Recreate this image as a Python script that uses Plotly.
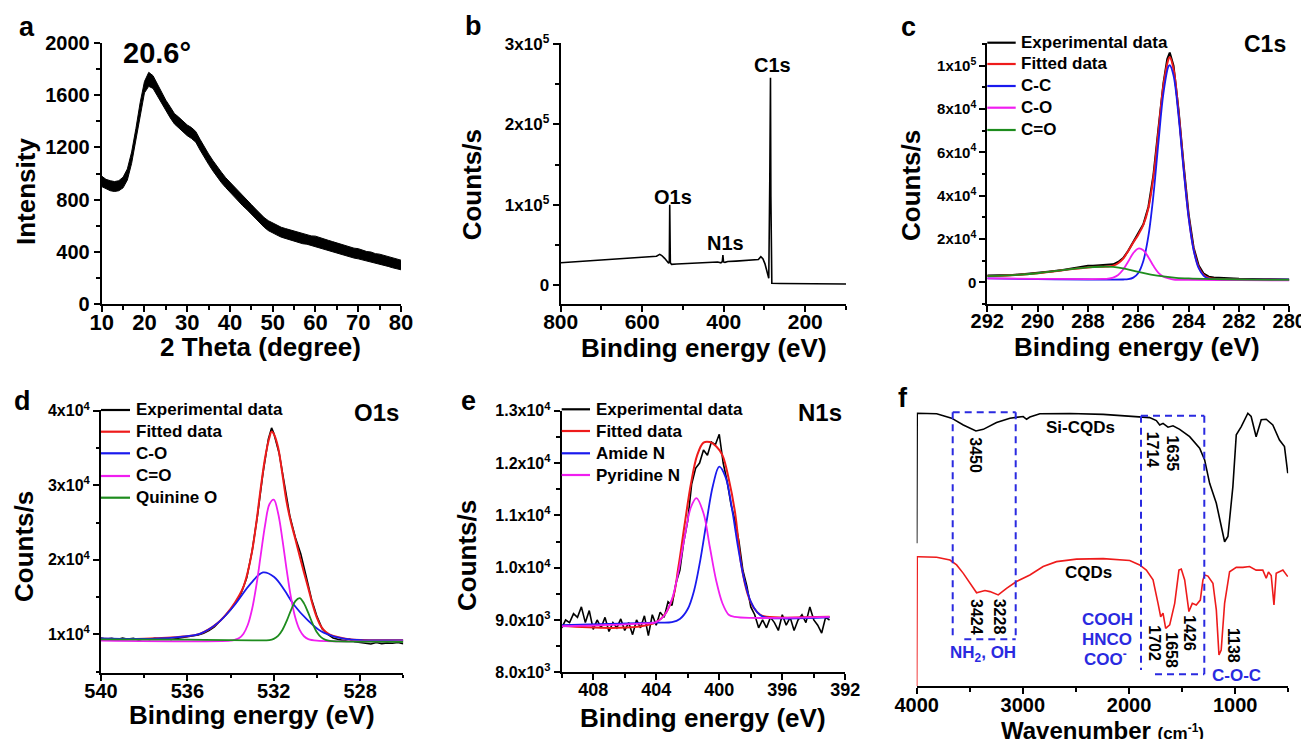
import plotly.graph_objects as go

W, H = 1309, 739
OFF = 8  # default page margin of the html body
FONT = "Liberation Sans, Arial, Helvetica, sans-serif"
BLACK, RED, BLUE, MAG, GREEN = "#000000", "#ee1b1b", "#1a1aee", "#f01ef0", "#1e8c1e"
DBLUE = "#2a2ae0"


def px(x):
    return (x - OFF) / W


def py(y):
    return 1 - (y - OFF) / H


# ---------------- data: (a) XRD (upper / lower edge of the noisy trace) ----------------
xrd_2theta = list(range(10, 81))
xrd_upper = [980, 955, 945, 938, 945, 972, 1035, 1165, 1345, 1545,
             1705, 1775, 1750, 1685, 1625, 1562, 1512, 1460, 1432, 1400,
             1372, 1352, 1322, 1262, 1200, 1150, 1100, 1050, 1010, 968,
             935, 898, 865, 828, 798, 762, 728, 692, 662, 638,
             620, 602, 588, 578, 568, 558, 548, 540, 532, 522,
             520, 508, 498, 488, 478, 468, 458, 448, 438, 428,
             424, 412, 402, 398, 386, 382, 372, 362, 352, 342, 336]
xrd_lower = [900, 885, 868, 862, 868, 890, 950, 1078, 1258, 1458,
             1618, 1668, 1652, 1596, 1538, 1478, 1428, 1380, 1348, 1320,
             1290, 1268, 1240, 1180, 1120, 1070, 1020, 972, 930, 892,
             855, 822, 786, 752, 722, 688, 652, 618, 588, 562,
             542, 528, 512, 502, 492, 482, 472, 462, 458, 448,
             442, 432, 422, 412, 402, 392, 382, 372, 362, 352,
             346, 338, 328, 322, 314, 308, 298, 288, 278, 268, 262]

# ---------------- data: (b) XPS survey ----------------
survey_be = [800, 760, 720, 680, 640, 600, 580, 565, 557, 552,
             545, 538, 535, 533.5, 532.5, 531, 528, 515, 490, 460,
             430, 415, 407, 403.5, 402, 400.5, 397, 390, 370, 350,
             330, 315, 309, 304, 299, 295, 291, 289.5, 287, 285.3,
             284.3, 283.3, 282, 260, 230, 200, 170, 140, 110, 100]
survey_cps = [28000, 29500, 31000, 32500, 33800, 34800, 35500, 36200, 38500, 37000,
              33500, 28500, 27500, 30000, 100000, 28000, 26000, 26500, 27000, 27500,
              28500, 29000, 28000, 29500, 37500, 29000, 28500, 29500, 30000, 30800,
              31500, 32000, 35500, 33000, 27000, 19000, 10500, 8700, 130000, 258000,
              110000, 4000, 2500, 2200, 2100, 2000, 1900, 1800, 1700, 1700]

# ---------------- data: (c) C1s ----------------
c1s_exp_be = [292, 291.5, 291, 290.5, 290, 289.5, 289, 288.5, 288.2, 288,
              287.8, 287.5, 287.2, 287, 286.8, 286.6, 286.4, 286.2, 286.0, 285.8,
              285.6, 285.4, 285.2, 285.0, 284.85, 284.75, 284.6, 284.4, 284.2, 284.0,
              283.8, 283.6, 283.4, 283.2, 283.0, 282.5, 282, 281, 280]
c1s_exp = [3100, 3200, 3400, 3800, 4300, 5000, 5700, 6600, 7300, 7700,
           7600, 7800, 8000, 8300, 9400, 11200, 14600, 18500, 22300, 26800,
           34800, 49500, 71000, 92000, 103000, 106000, 100000, 79500, 54500, 31500,
           16000, 7800, 4000, 2600, 2200, 1800, 1600, 1400, 1300]
c1s_fit_be = [292, 291, 290, 289, 288, 287.5, 287.2, 287, 286.8, 286.6,
              286.4, 286.2, 286.0, 285.8, 285.6, 285.4, 285.2, 285.0, 284.8, 284.75,
              284.6, 284.4, 284.2, 284.0, 283.8, 283.6, 283.4, 283.2, 283, 282, 280]
c1s_fit = [2900, 3300, 4200, 5600, 6900, 7200, 7300, 7700, 8800, 10900,
           14500, 18400, 22000, 26500, 34200, 48500, 69600, 91000, 103000, 104000,
           98500, 78500, 53300, 30600, 15300, 7000, 3400, 2050, 1600, 1300, 1100]
c1s_cc_be = [292, 290, 288, 286.6, 286.4, 286.2, 286.0, 285.8, 285.6, 285.4,
             285.2, 285.0, 284.8, 284.75, 284.6, 284.4, 284.2, 284.0, 283.8, 283.6,
             283.4, 283.2, 283.0, 282, 280]
c1s_cc = [1800, 1500, 1300, 1300, 1450, 2160, 4350, 9880, 21300, 40100,
          64600, 87400, 99700, 100200, 95400, 76700, 52000, 29800, 14700, 6500,
          3000, 1700, 1300, 1200, 1200]
c1s_co_be = [292, 290, 288, 287.4, 287.2, 287.0, 286.8, 286.6, 286.4, 286.2,
             286.0, 285.8, 285.6, 285.4, 285.2, 285.0, 284.8, 284.6, 284.0, 282, 280]
c1s_co = [1800, 1600, 1500, 1550, 1700, 2200, 3400, 5900, 9600, 13500,
          15600, 14800, 11600, 7600, 4400, 2600, 1800, 1300, 1100, 1000, 900]
c1s_cdo_be = [292, 291, 290, 289.5, 289, 288.5, 288, 287.5, 287, 286.5,
              286, 285.5, 285, 284.5, 284, 283, 282, 280]
c1s_cdo = [2900, 3300, 4200, 4900, 5600, 6300, 6900, 7200, 7100, 6200,
           4800, 3600, 2700, 2100, 1800, 1500, 1300, 1100]

# ---------------- data: (d) O1s ----------------
o1s_exp_be = [540, 539.75, 539.5, 539.25, 539, 538.75, 538.5, 538.25, 538, 537.75,
              537.5, 537.25, 537, 536.75, 536.5, 536.25, 536, 535.75, 535.5, 535.25,
              535, 534.75, 534.5, 534.25, 534, 533.75, 533.5, 533.25, 533, 532.75,
              532.5, 532.25, 532.1, 532, 531.75, 531.5, 531.25, 531, 530.75, 530.5,
              530.25, 530, 529.75, 529.5, 529.25, 529, 528.75, 528.5, 528.25, 528,
              527.75, 527.5, 527.25, 527, 526.75, 526.5, 526.25, 526]
o1s_exp = [9500, 9350, 9450, 9300, 9500, 9350, 9450, 9250, 9400, 9300,
           9450, 9350, 9400, 9300, 9450, 9550, 9600, 9750, 9900, 10150,
           10500, 11000, 11700, 12500, 13300, 14300, 15600, 17600, 21200, 26000,
           31600, 36200, 37700, 37000, 34300, 30000, 25800, 23000, 20800, 17800,
           14700, 12400, 10700, 10000, 9500, 9300, 9150, 9350, 9000, 8900,
           8850, 8700, 8900, 8750, 8850, 8800, 8900, 8750]
o1s_fit_be = [540, 538, 536.2, 535.4, 534.6, 534.0, 533.6, 533.4, 533.2, 533.0,
              532.8, 532.6, 532.4, 532.2, 532.1, 532.0, 531.8, 531.6, 531.4, 531.2,
              531.0, 530.8, 530.6, 530.4, 530.2, 530.0, 529.8, 529.6, 529.4, 529.0,
              528.4, 526]
o1s_fit = [9400, 9400, 9700, 10100, 11500, 13400, 15200, 16400, 18400, 21200,
           25100, 29700, 33700, 36400, 37200, 36900, 35100, 31500, 27700, 25000,
           22800, 20500, 18300, 16200, 14000, 12200, 11000, 10350, 9960, 9600,
           9300, 9200]
o1s_co_be = [540, 537.7, 536.2, 535.4, 534.6, 533.85, 533.07, 532.5, 531.98, 531.5,
             531.05, 530.43, 529.81, 529.2, 528.4, 526]
o1s_co = [9450, 9400, 9700, 10100, 11500, 13800, 16800, 18300, 17700, 15900,
          13900, 11900, 10400, 9700, 9300, 9200]
o1s_cdo_be = [540, 534, 533.8, 533.6, 533.4, 533.2, 533.0, 532.8, 532.6, 532.4,
              532.2, 532.0, 531.8, 531.6, 531.4, 531.2, 531.0, 530.8, 530.6, 530.4,
              530.0, 526]
o1s_cdo = [9150, 9150, 9270, 9510, 10090, 11280, 13430, 16650, 20680, 24670,
           27450, 28070, 26280, 22750, 18600, 14910, 12220, 10590, 9740, 9360,
           9150, 9100]
o1s_q_be = [540, 536, 533, 532.2, 532.0, 531.8, 531.6, 531.4, 531.2, 531.0,
            530.8, 530.6, 530.4, 530.2, 530.0, 529.8, 529.6, 529.4, 529.0, 526]
o1s_q = [9330, 9280, 9200, 9230, 9390, 9790, 10580, 11800, 13250, 14450,
         14850, 14150, 12870, 11430, 10290, 9590, 9250, 9110, 9050, 9000]

# ---------------- data: (e) N1s ----------------
n1s_exp_be = [410, 409.75, 409.5, 409.25, 409, 408.75, 408.5, 408.25, 408, 407.75,
              407.5, 407.25, 407, 406.75, 406.5, 406.25, 406, 405.75, 405.5, 405.25,
              405, 404.75, 404.5, 404.25, 404, 403.75, 403.5, 403.25, 403, 402.75,
              402.5, 402.25, 402, 401.75, 401.5, 401.25, 401, 400.75, 400.5, 400.25,
              400, 399.75, 399.5, 399.25, 399, 398.75, 398.5, 398.25, 398, 397.75,
              397.5, 397.25, 397, 396.75, 396.5, 396.25, 396, 395.75, 395.5, 395.25,
              395, 394.75, 394.5, 394.25, 394, 393.75, 393.5, 393.25, 393]
n1s_exp = [8850, 9000, 8950, 9120, 9050, 9250, 8950, 9180, 8820, 9000,
           8850, 9050, 8780, 8950, 8850, 9020, 8800, 8950, 8720, 9000,
           8850, 9080, 8700, 9100, 8900, 9150, 9050, 9350, 9280, 9700,
           9950, 10500, 10900, 11600, 11900, 12000, 12250, 12150, 12400, 12350,
           12550, 12000, 11650, 11200, 10900, 10500, 9950, 9650, 9250, 9100,
           8850, 9000, 8850, 9050, 8950, 8800, 9100, 8900, 9050, 8800,
           9000, 9100, 8950, 9250, 9000, 8900, 8750, 9050, 9000]
n1s_fit_be = [410, 404, 403.0, 402.6, 402.2, 401.8, 401.4, 401.0, 400.6, 400.2,
              399.8, 399.4, 399.0, 398.6, 398.2, 397.8, 397.4, 397.0, 393]
n1s_fit = [8890, 8960, 9380, 10000, 10820, 11600, 12150, 12390, 12400, 12320,
           12150, 11700, 11060, 10050, 9500, 9230, 9100, 9060, 9060]
n1s_amide_be = [410, 404, 403, 402.5, 402.0, 401.6, 401.2, 400.8, 400.4, 400.0,
                399.6, 399.2, 398.8, 398.4, 398.0, 397.6, 397.2, 396, 393]
n1s_amide = [8900, 8950, 8960, 9020, 9210, 9560, 10150, 10890, 11570, 11930,
             11730, 11140, 10380, 9750, 9350, 9150, 9060, 9030, 9050]
n1s_pyr_be = [410, 405, 404, 403.5, 403.0, 402.6, 402.2, 401.8, 401.45, 401.0,
              400.6, 400.2, 399.8, 399.4, 399.0, 398, 393]
n1s_pyr = [8880, 8930, 8960, 9080, 9400, 9910, 10580, 11155, 11330, 11040,
           10400, 9760, 9320, 9100, 9060, 9040, 9060]

# ---------------- data: (f) FTIR ----------------
ftir_si_wn = [4000, 3995, 3812, 3671, 3561, 3442, 3373, 3248, 3122, 2997,
              2965, 2934, 2840, 2558, 2244, 1931, 1806, 1743, 1711, 1680,
              1633, 1586, 1523, 1429, 1335, 1288, 1241, 1178, 1132, 1100,
              1069, 1022, 990, 943, 881, 850, 803, 755, 708, 646,
              583, 536, 505]
ftir_si_t = [52.3, 100, 99.8, 98.2, 95.7, 93.5, 94.1, 96.6, 98.2, 98.8,
             97.8, 98.6, 99.8, 99.9, 99.6, 98.8, 98.4, 97.3, 95.7, 96.3,
             94.9, 95.4, 94.1, 91.4, 87.2, 82.9, 74.3, 67.0, 58.4, 52.9,
             54.8, 73.1, 92.1, 95.1, 100, 98.8, 91.4, 97.6, 97.8, 95.7,
             90.2, 87.8, 78.0]
ftir_cqd_wn = [4000, 3995, 3984, 3812, 3687, 3624, 3561, 3498, 3436, 3357,
               3310, 3232, 3154, 3060, 2934, 2809, 2683, 2495, 2244, 1994,
               1900, 1837, 1774, 1727, 1702, 1680, 1655, 1617, 1570, 1530,
               1508, 1476, 1436, 1404, 1367, 1329, 1304, 1288, 1257, 1210,
               1178, 1153, 1132, 1100, 1053, 990, 928, 865, 803, 740,
               708, 687, 661, 635, 614, 551, 505]
ftir_cqd_t = [0, 47.4, 47.4, 47.2, 46.2, 44.4, 41.3, 37.7, 34.2, 35.0,
              34.6, 33.4, 35.8, 38.3, 40.7, 43.8, 45.6, 46.5, 46.7, 46.0,
              44.4, 42.5, 38.9, 30.3, 25.4, 26.7, 21.1, 22.4, 30.3, 42.5,
              42.9, 38.9, 27.3, 30.3, 29.7, 31.5, 38.9, 40.7, 40.3, 37.7,
              27.9, 11.4, 13.2, 30.3, 41.9, 43.5, 43.5, 43.8, 42.5, 42.5,
              39.5, 41.8, 40.5, 29.7, 41.3, 42.5, 40.1]

# tick labels
b_tickvals = [0, 100000, 200000, 300000]
b_ticktext = ["0", "1x10<sup>5</sup>", "2x10<sup>5</sup>", "3x10<sup>5</sup>"]
c_tickvals = [0, 20000, 40000, 60000, 80000, 100000]
c_ticktext = ["0", "2x10<sup>4</sup>", "4x10<sup>4</sup>", "6x10<sup>4</sup>",
              "8x10<sup>4</sup>", "1x10<sup>5</sup>"]
d_tickvals = [10000, 20000, 30000, 40000]
d_ticktext = ["1x10<sup>4</sup>", "2x10<sup>4</sup>", "3x10<sup>4</sup>", "4x10<sup>4</sup>"]
e_tickvals = [8000, 9000, 10000, 11000, 12000, 13000]
e_ticktext = ["8.0x10<sup>3</sup>", "9.0x10<sup>3</sup>", "1.0x10<sup>4</sup>",
              "1.1x10<sup>4</sup>", "1.2x10<sup>4</sup>", "1.3x10<sup>4</sup>"]

# ---------------- figure ----------------
fig = go.Figure()


def add(x, y, color, width, xa, ya, shape="linear", **kw):
    fig.add_trace(go.Scatter(x=x, y=y, mode="lines", showlegend=False, hoverinfo="skip",
                             line=dict(color=color, width=width, shape=shape),
                             xaxis=xa, yaxis=ya, **kw))


# (a) noisy trace drawn as a filled band between its read lower and upper edges
add(xrd_2theta, xrd_lower, BLACK, 1, "x", "y")
add(xrd_2theta, xrd_upper, BLACK, 1, "x", "y", fill="tonexty", fillcolor=BLACK)

# (b)
add(survey_be, survey_cps, BLACK, 1.6, "x2", "y2")

# (c)
add(c1s_exp_be, c1s_exp, BLACK, 2, "x3", "y3")
add(c1s_fit_be, c1s_fit, RED, 2, "x3", "y3", "spline")
add(c1s_cc_be, c1s_cc, BLUE, 1.8, "x3", "y3", "spline")
add(c1s_co_be, c1s_co, MAG, 1.8, "x3", "y3", "spline")
add(c1s_cdo_be, c1s_cdo, GREEN, 1.8, "x3", "y3", "spline")

# (d)
add(o1s_exp_be, o1s_exp, BLACK, 1.6, "x4", "y4")
add(o1s_fit_be, o1s_fit, RED, 2, "x4", "y4", "spline")
add(o1s_co_be, o1s_co, BLUE, 1.8, "x4", "y4", "spline")
add(o1s_cdo_be, o1s_cdo, MAG, 1.8, "x4", "y4", "spline")
add(o1s_q_be, o1s_q, GREEN, 1.8, "x4", "y4", "spline")

# (e)
add(n1s_exp_be, n1s_exp, BLACK, 1.6, "x5", "y5")
add(n1s_fit_be, n1s_fit, RED, 2, "x5", "y5", "spline")
add(n1s_amide_be, n1s_amide, BLUE, 1.8, "x5", "y5", "spline")
add(n1s_pyr_be, n1s_pyr, MAG, 1.8, "x5", "y5", "spline")

# (f)
add(ftir_si_wn, ftir_si_t, BLACK, 1.6, "x6", "y6")
add(ftir_cqd_wn, ftir_cqd_t, RED, 1.6, "x6", "y6")


def axis(dom, rng, anchor, size, dtick=None, tick0=0, mdtick=None, tickvals=None,
         ticktext=None, visible=True, standoff=0):
    d = dict(domain=dom, range=rng, anchor=anchor, showline=True, linecolor="black",
             linewidth=2, ticks="outside", ticklen=6, tickwidth=2, tickcolor="black",
             showgrid=False, zeroline=False, mirror=False, automargin=False,
             fixedrange=True, visible=visible, ticklabelstandoff=standoff,
             tickfont=dict(family=FONT, size=size, color="black", weight="bold"))
    if tickvals is not None:
        d.update(tickmode="array", tickvals=tickvals, ticktext=ticktext)
    else:
        d.update(tickmode="linear", dtick=dtick, tick0=tick0)
    if mdtick:
        d["minor"] = dict(ticks="outside", ticklen=3.5, tickwidth=1.5, tickcolor="black",
                          dtick=mdtick, tick0=0, showgrid=False)
    return d


layout = dict(width=W, height=H, margin=dict(l=0, r=0, t=0, b=0), autosize=False,
              paper_bgcolor="white", plot_bgcolor="white", showlegend=False)

# (a)
layout["xaxis"] = axis([px(101.7), px(401)], [10, 80], "y", 22, dtick=10, mdtick=5, standoff=-8)
layout["yaxis"] = axis([py(304), py(43)], [0, 2000], "x", 20, dtick=400, mdtick=200)
# (b)
layout["xaxis2"] = axis([px(560.7), px(846)], [800, 100], "y2", 21, dtick=200, mdtick=100,
                        standoff=-8)
layout["yaxis2"] = axis([py(304), py(43)], [-23250, 301200], "x2", 17,
                        tickvals=b_tickvals, ticktext=b_ticktext, mdtick=50000)
# (c)
layout["xaxis3"] = axis([px(987.3), px(1289.3)], [292, 280], "y3", 20, dtick=2, mdtick=1,
                        standoff=-8)
layout["yaxis3"] = axis([py(304), py(43.3)], [-10000, 110300], "x3", 15,
                        tickvals=c_tickvals, ticktext=c_ticktext, mdtick=10000)
# (d)
layout["xaxis4"] = axis([px(101), px(403.3)], [540, 526], "y4", 20, dtick=4, mdtick=2,
                        standoff=-7)
layout["yaxis4"] = axis([py(672.7), py(410)], [4850, 40100], "x4", 16,
                        tickvals=d_tickvals, ticktext=d_ticktext, mdtick=5000)
# (e)
layout["xaxis5"] = axis([px(561.7), px(845.3)], [410, 392], "y5", 18, dtick=4, mdtick=2,
                        standoff=-6)
layout["yaxis5"] = axis([py(672.3), py(410.7)], [8000, 13000], "x5", 16,
                        tickvals=e_tickvals, ticktext=e_ticktext, mdtick=500)
# (f)
layout["xaxis6"] = axis([px(916.7), px(1288.3)], [4000, 500], "y6", 20, dtick=1000,
                        mdtick=500, standoff=-6)
layout["yaxis6"] = axis([py(686), py(407.8)], [0, 102], "x6", 12, dtick=20, visible=False)

fig.update_layout(**layout)

anns = []


def ann(text, x, y, size, color="black", angle=0, xanchor="center"):
    anns.append(dict(text=text, x=px(x), y=py(y), xref="paper", yref="paper",
                     showarrow=False, textangle=angle, xanchor=xanchor, yanchor="middle",
                     font=dict(family=FONT, size=size, color=color, weight="bold")))


# panel letters
for letter, x, y in [("a", 26.7, 27), ("b", 473.3, 26), ("c", 908.3, 27),
                     ("d", 22.7, 401), ("e", 468.3, 401), ("f", 903.3, 398)]:
    ann(letter, x, y, 27)

# axis titles
ann("Intensity", 25.3, 191.7, 26, angle=-90)
ann("2 Theta (degree)", 260, 346.7, 26)
ann("Counts/s", 472.3, 185, 26, angle=-90)
ann("Binding energy (eV)", 704, 348.3, 26)
ann("Counts/s", 910.3, 185.7, 26, angle=-90)
ann("Binding energy (eV)", 1137.3, 346.7, 26)
ann("Counts/s", 23.3, 546.7, 26, angle=-90)
ann("Binding energy (eV)", 251.7, 715, 26)
ann("Counts/s", 466.3, 555.7, 26, angle=-90)
ann("Binding energy (eV)", 703.3, 718.3, 26)
ann("Wavenumber <span style='font-size:17px'>(cm<sup>-1</sup>)</span>", 1102.3, 730.5, 24)

# in-panel labels
ann("20.6°", 156.7, 53.3, 29)
ann("O1s", 673, 197, 20)
ann("N1s", 725.7, 243, 20)
ann("C1s", 772.7, 65, 20)
ann("C1s", 1265, 44, 23)
ann("O1s", 376.7, 412.7, 24)
ann("N1s", 820, 412.7, 24)

shapes = []


def legend(x0, x1, xt, rows):
    for (label, color), y in rows:
        shapes.append(dict(type="line", xref="paper", yref="paper", x0=px(x0), x1=px(x1),
                           y0=py(y), y1=py(y), line=dict(color=color, width=2.2)))
        ann(label, xt, y, 17, xanchor="left")


legend(987.3, 1015.7, 1019, list(zip(
    [("Experimental data", BLACK), ("Fitted data", RED), ("C-C", BLUE), ("C-O", MAG),
     ("C=O", GREEN)], [42.7, 64, 86, 107.7, 130])))
legend(101, 130, 134, list(zip(
    [("Experimental data", BLACK), ("Fitted data", RED), ("C-O", BLUE), ("C=O", MAG),
     ("Quinine O", GREEN)], [410, 431.7, 453.3, 476, 497.7])))
legend(561.7, 590, 594, list(zip(
    [("Experimental data", BLACK), ("Fitted data", RED), ("Amide N", BLUE),
     ("Pyridine N", MAG)], [409.3, 431, 453.3, 475])))

# FTIR annotations
ann("Si-CQDs", 1080.7, 427.3, 17)
ann("CQDs", 1088.3, 572.7, 17)
for txt, x, y in [("3450", 975.7, 455), ("1714", 1153.3, 450), ("1635", 1172.7, 453.3),
                  ("3424", 976.7, 616.7), ("3228", 999, 616.7), ("1702", 1155, 643.3),
                  ("1658", 1171.7, 650), ("1426", 1190, 633.3), ("1138", 1234, 645)]:
    ann(txt, x, y, 16, angle=90)
ann("COOH", 1107.3, 619.3, 17, color=DBLUE)
ann("HNCO", 1107.3, 639.3, 17, color=DBLUE)
ann("COO<sup>-</sup>", 1105, 658.3, 17, color=DBLUE)
ann("NH<sub>2</sub>, OH", 982.7, 654, 17, color=DBLUE)
ann("C-O-C", 1236, 675, 17, color=DBLUE)

# dashed boxes in (f)
dash = dict(color=DBLUE, width=2, dash="7px,5px")
for (x0, y0, x1, y1) in [(952.7, 412.3, 1015.7, 412.3), (952.7, 412.3, 952.7, 639.3),
                         (1015.7, 412.3, 1015.7, 639.3), (964.3, 639.3, 1015.7, 639.3),
                         (1141, 415.7, 1204.3, 415.7), (1141, 415.7, 1141, 670),
                         (1204.3, 415.7, 1204.3, 674.3), (1155, 674.3, 1204.3, 674.3)]:
    shapes.append(dict(type="line", xref="paper", yref="paper", x0=px(x0), y0=py(y0),
                       x1=px(x1), y1=py(y1), line=dash))

fig.update_layout(annotations=anns, shapes=shapes)
fig.write_html("out.html")
